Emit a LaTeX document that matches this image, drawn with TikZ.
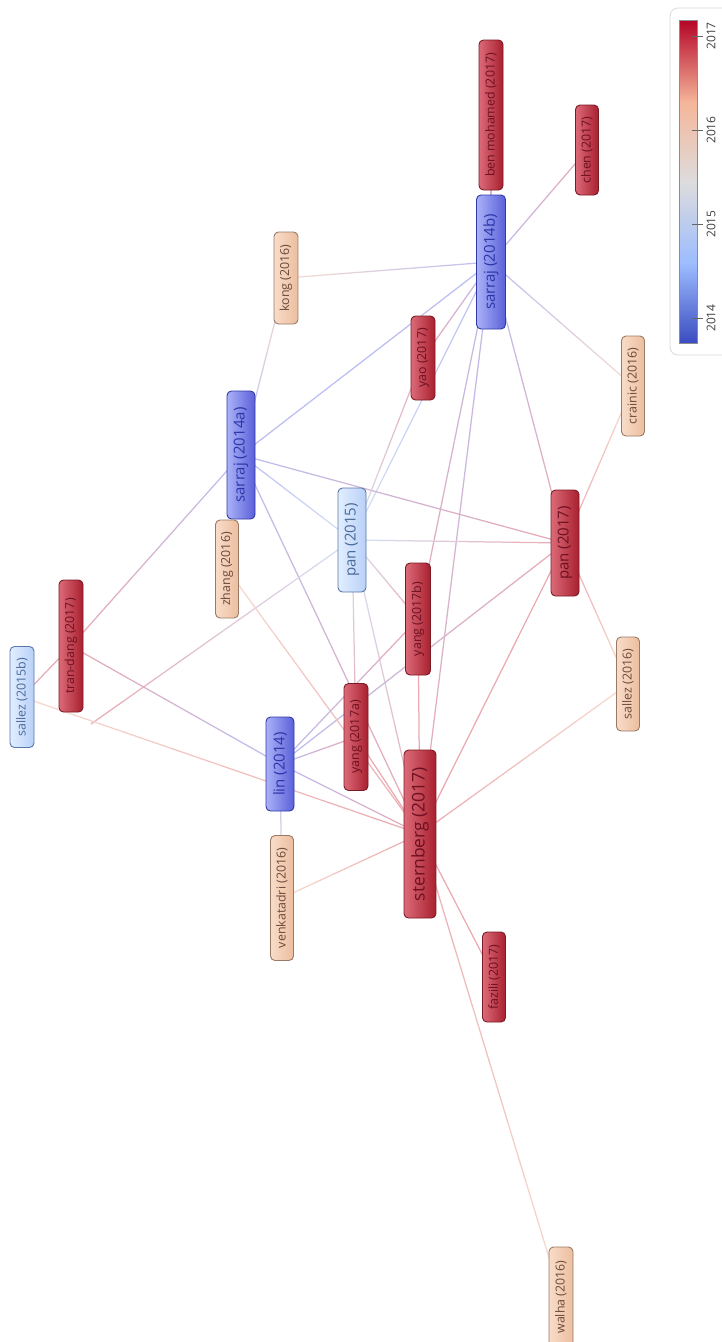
\documentclass[tikz,border=0pt]{standalone}
\usepackage{fontspec}
\setmainfont{Open Sans}
\usetikzlibrary{calc}
\pgfdeclarelayer{back}
\pgfdeclarelayer{bg}
\pgfsetlayers{back,bg,main}
\definecolor{rL}{HTML}{DC6A78}\definecolor{rD}{HTML}{A8202F}\definecolor{rB}{HTML}{7A1A25}\definecolor{rT}{HTML}{6E1020}
\definecolor{pL}{HTML}{F8DCC8}\definecolor{pD}{HTML}{ECBE9F}\definecolor{pB}{HTML}{9A7A66}\definecolor{pT}{HTML}{6B4A3C}
\definecolor{bL}{HTML}{AAB2F8}\definecolor{bD}{HTML}{5A60D8}\definecolor{bB}{HTML}{3038A8}\definecolor{bT}{HTML}{2D35A8}
\definecolor{lL}{HTML}{E2EEFF}\definecolor{lD}{HTML}{B8D0F8}\definecolor{lB}{HTML}{5878A8}\definecolor{lT}{HTML}{4A6A9A}
\definecolor{e17}{HTML}{EBAAB3}\definecolor{e16}{HTML}{F6DCCF}\definecolor{e14}{HTML}{BCBEF3}\definecolor{e15}{HTML}{D6E1F6}
\definecolor{cwblue}{HTML}{3B4CC0}\definecolor{cwlb}{HTML}{9DBDFF}\definecolor{cwmid}{HTML}{DDDCDC}\definecolor{cwsal}{HTML}{F5B69A}\definecolor{cwred}{HTML}{B40426}
\pgfdeclareverticalshading{coolwarm}{100bp}{color(0bp)=(cwblue); color(25bp)=(cwblue); color(37.4bp)=(cwlb); color(50bp)=(cwmid); color(62.2bp)=(cwsal); color(75bp)=(cwred); color(100bp)=(cwred)}
\tikzset{
  paper/.style={draw, rounded corners=4.5pt, rotate=90, inner sep=0pt, line width=0.9pt, font=\fontsize{12.4}{12.4}\selectfont},
  big/.style={font=\fontsize{15}{15}\selectfont},
  huge/.style={font=\fontsize{17.5}{17.5}\selectfont},
  y17/.style={left color=rL, right color=rD, draw=rB, text=rT},
  y16/.style={left color=pL, right color=pD, draw=pB, text=pT},
  y14/.style={left color=bL, right color=bD, draw=bB, text=bT},
  y15/.style={left color=lL, right color=lD, draw=lB, text=lT},
  edge/.style={line width=1.25pt, line cap=butt},
  ticklab/.style={rotate=90, text=black!75, font=\fontsize{12}{12}\selectfont, inner sep=0pt}
}
\newcommand\lnk[4]{\foreach \k in {0,...,7}{\pgfmathsetmacro\ta{\k/8}\pgfmathsetmacro\tb{(\k+1)/8}\pgfmathtruncatemacro\pc{100-(\k*2+1)*100/16}\draw[edge,#3!\pc!#4] ($(#1)!\ta!(#2)$) -- ($(#1)!\tb!(#2)$);}}
\begin{document}
\begin{tikzpicture}[x=1pt,y=-1pt]
\useasboundingbox (0,0) rectangle (722,1342);
\begin{pgfonlayer}{back}
\fill[white] (0,0) rectangle (722,1342);
\end{pgfonlayer}
% nodes
\node[paper,y17,minimum width=150pt,minimum height=24pt] (ben) at (491,115) {ben mohamed (2017)};
\node[paper,y17,minimum width=90pt,minimum height=23pt] (chen) at (587,150) {chen (2017)};
\node[paper,y16,minimum width=92pt,minimum height=24pt] (kong) at (286,278) {kong (2016)};
\node[paper,y14,big,minimum width=134pt,minimum height=29pt] (sb) at (491,262) {sarraj (2014b)};
\node[paper,y17,minimum width=84pt,minimum height=24pt] (yao) at (423,358) {yao (2017)};
\node[paper,y16,minimum width=100pt,minimum height=23pt] (crainic) at (633,386) {crainic (2016)};
\node[paper,y14,big,minimum width=128pt,minimum height=28pt] (sa) at (241,455) {sarraj (2014a)};
\node[paper,y15,big,minimum width=104pt,minimum height=28pt] (panA) at (352,540) {pan (2015)};
\node[paper,y16,minimum width=98pt,minimum height=23pt] (zhang) at (227,569) {zhang (2016)};
\node[paper,y17,big,minimum width=106pt,minimum height=28pt] (panB) at (565,543) {pan (2017)};
\node[paper,y17,minimum width=132pt,minimum height=24pt] (tran) at (71,646) {tran-dang (2017)};
\node[paper,y17,minimum width=112pt,minimum height=25pt] (yangB) at (418,619) {yang (2017b)};
\node[paper,y15,minimum width=101pt,minimum height=24pt] (sallezB) at (22,697) {sallez (2015b)};
\node[paper,y16,minimum width=94pt,minimum height=23pt] (sallezC) at (628,684) {sallez (2016)};
\node[paper,y17,minimum width=107pt,minimum height=24pt] (yangA) at (356,737) {yang (2017a)};
\node[paper,y14,big,minimum width=94pt,minimum height=28pt] (lin) at (280,764) {lin (2014)};
\node[paper,y17,huge,minimum width=168pt,minimum height=32pt] (stern) at (420,834) {sternberg (2017)};
\node[paper,y16,minimum width=125pt,minimum height=23pt] (venk) at (282,898) {venkatadri (2016)};
\node[paper,y17,minimum width=90pt,minimum height=23pt] (fazili) at (494,977) {fazili (2017)};
\node[paper,y16,minimum width=100pt,minimum height=24pt] (walha) at (561,1297) {walha (2016)};
\coordinate (dot) at (91,724);
% edges
\begin{pgfonlayer}{bg}
\lnk{sb}{ben}{e14}{e17}
\lnk{sb}{chen}{e14}{e17}
\lnk{sb}{kong}{e14}{e16}
\lnk{sb}{crainic}{e14}{e16}
\lnk{sb}{sa}{e14}{e14}
\lnk{sb}{yao}{e14}{e17}
\lnk{sb}{panA}{e14}{e15}
\lnk{sb}{yangB}{e14}{e17}
\lnk{sb}{stern}{e14}{e17}
\lnk{sb}{panB}{e14}{e17}
\lnk{sa}{kong}{e14}{e16}
\lnk{sa}{panB}{e14}{e17}
\lnk{sa}{panA}{e14}{e15}
\lnk{sa}{stern}{e14}{e17}
\lnk{sa}{tran}{e14}{e17}
\lnk{panA}{panB}{e15}{e17}
\lnk{panA}{yangB}{e15}{e17}
\lnk{panA}{yangA}{e15}{e17}
\lnk{panA}{stern}{e15}{e17}
\lnk{panA}{dot}{e15}{e17}
\lnk{yao}{panA}{e17}{e15}
\lnk{panB}{crainic}{e17}{e16}
\lnk{panB}{sallezC}{e17}{e16}
\lnk{panB}{stern}{e17}{e17}
\lnk{panB}{lin}{e17}{e14}
\lnk{zhang}{stern}{e16}{e17}
\lnk{tran}{sallezB}{e17}{e17}
\lnk{tran}{lin}{e17}{e14}
\lnk{sallezB}{stern}{e16}{e17}
\lnk{lin}{yangB}{e14}{e17}
\lnk{lin}{yangA}{e14}{e17}
\lnk{lin}{stern}{e14}{e17}
\lnk{lin}{venk}{e14}{e16}
\lnk{yangA}{stern}{e17}{e17}
\lnk{yangB}{stern}{e17}{e17}
\lnk{stern}{sallezC}{e17}{e16}
\lnk{stern}{venk}{e17}{e16}
\lnk{stern}{fazili}{e17}{e17}
\lnk{stern}{walha}{e17}{e16}
\end{pgfonlayer}
% legend
\draw[black!15, line width=0.8pt, rounded corners=8pt] (670,8) rectangle (735,355);
\shade[shading=coolwarm] (679,20) rectangle (697,343);
\draw[black!45, line width=0.6pt] (679,20) rectangle (697,343);
\foreach \yr/\yy in {2017/36,2016/130,2015/224,2014/318}{
  \draw[black!60, line width=0.8pt] (692,\yy) -- (703,\yy);
  \node[ticklab] at (711,\yy) {\yr};
}
\end{tikzpicture}
\end{document}
